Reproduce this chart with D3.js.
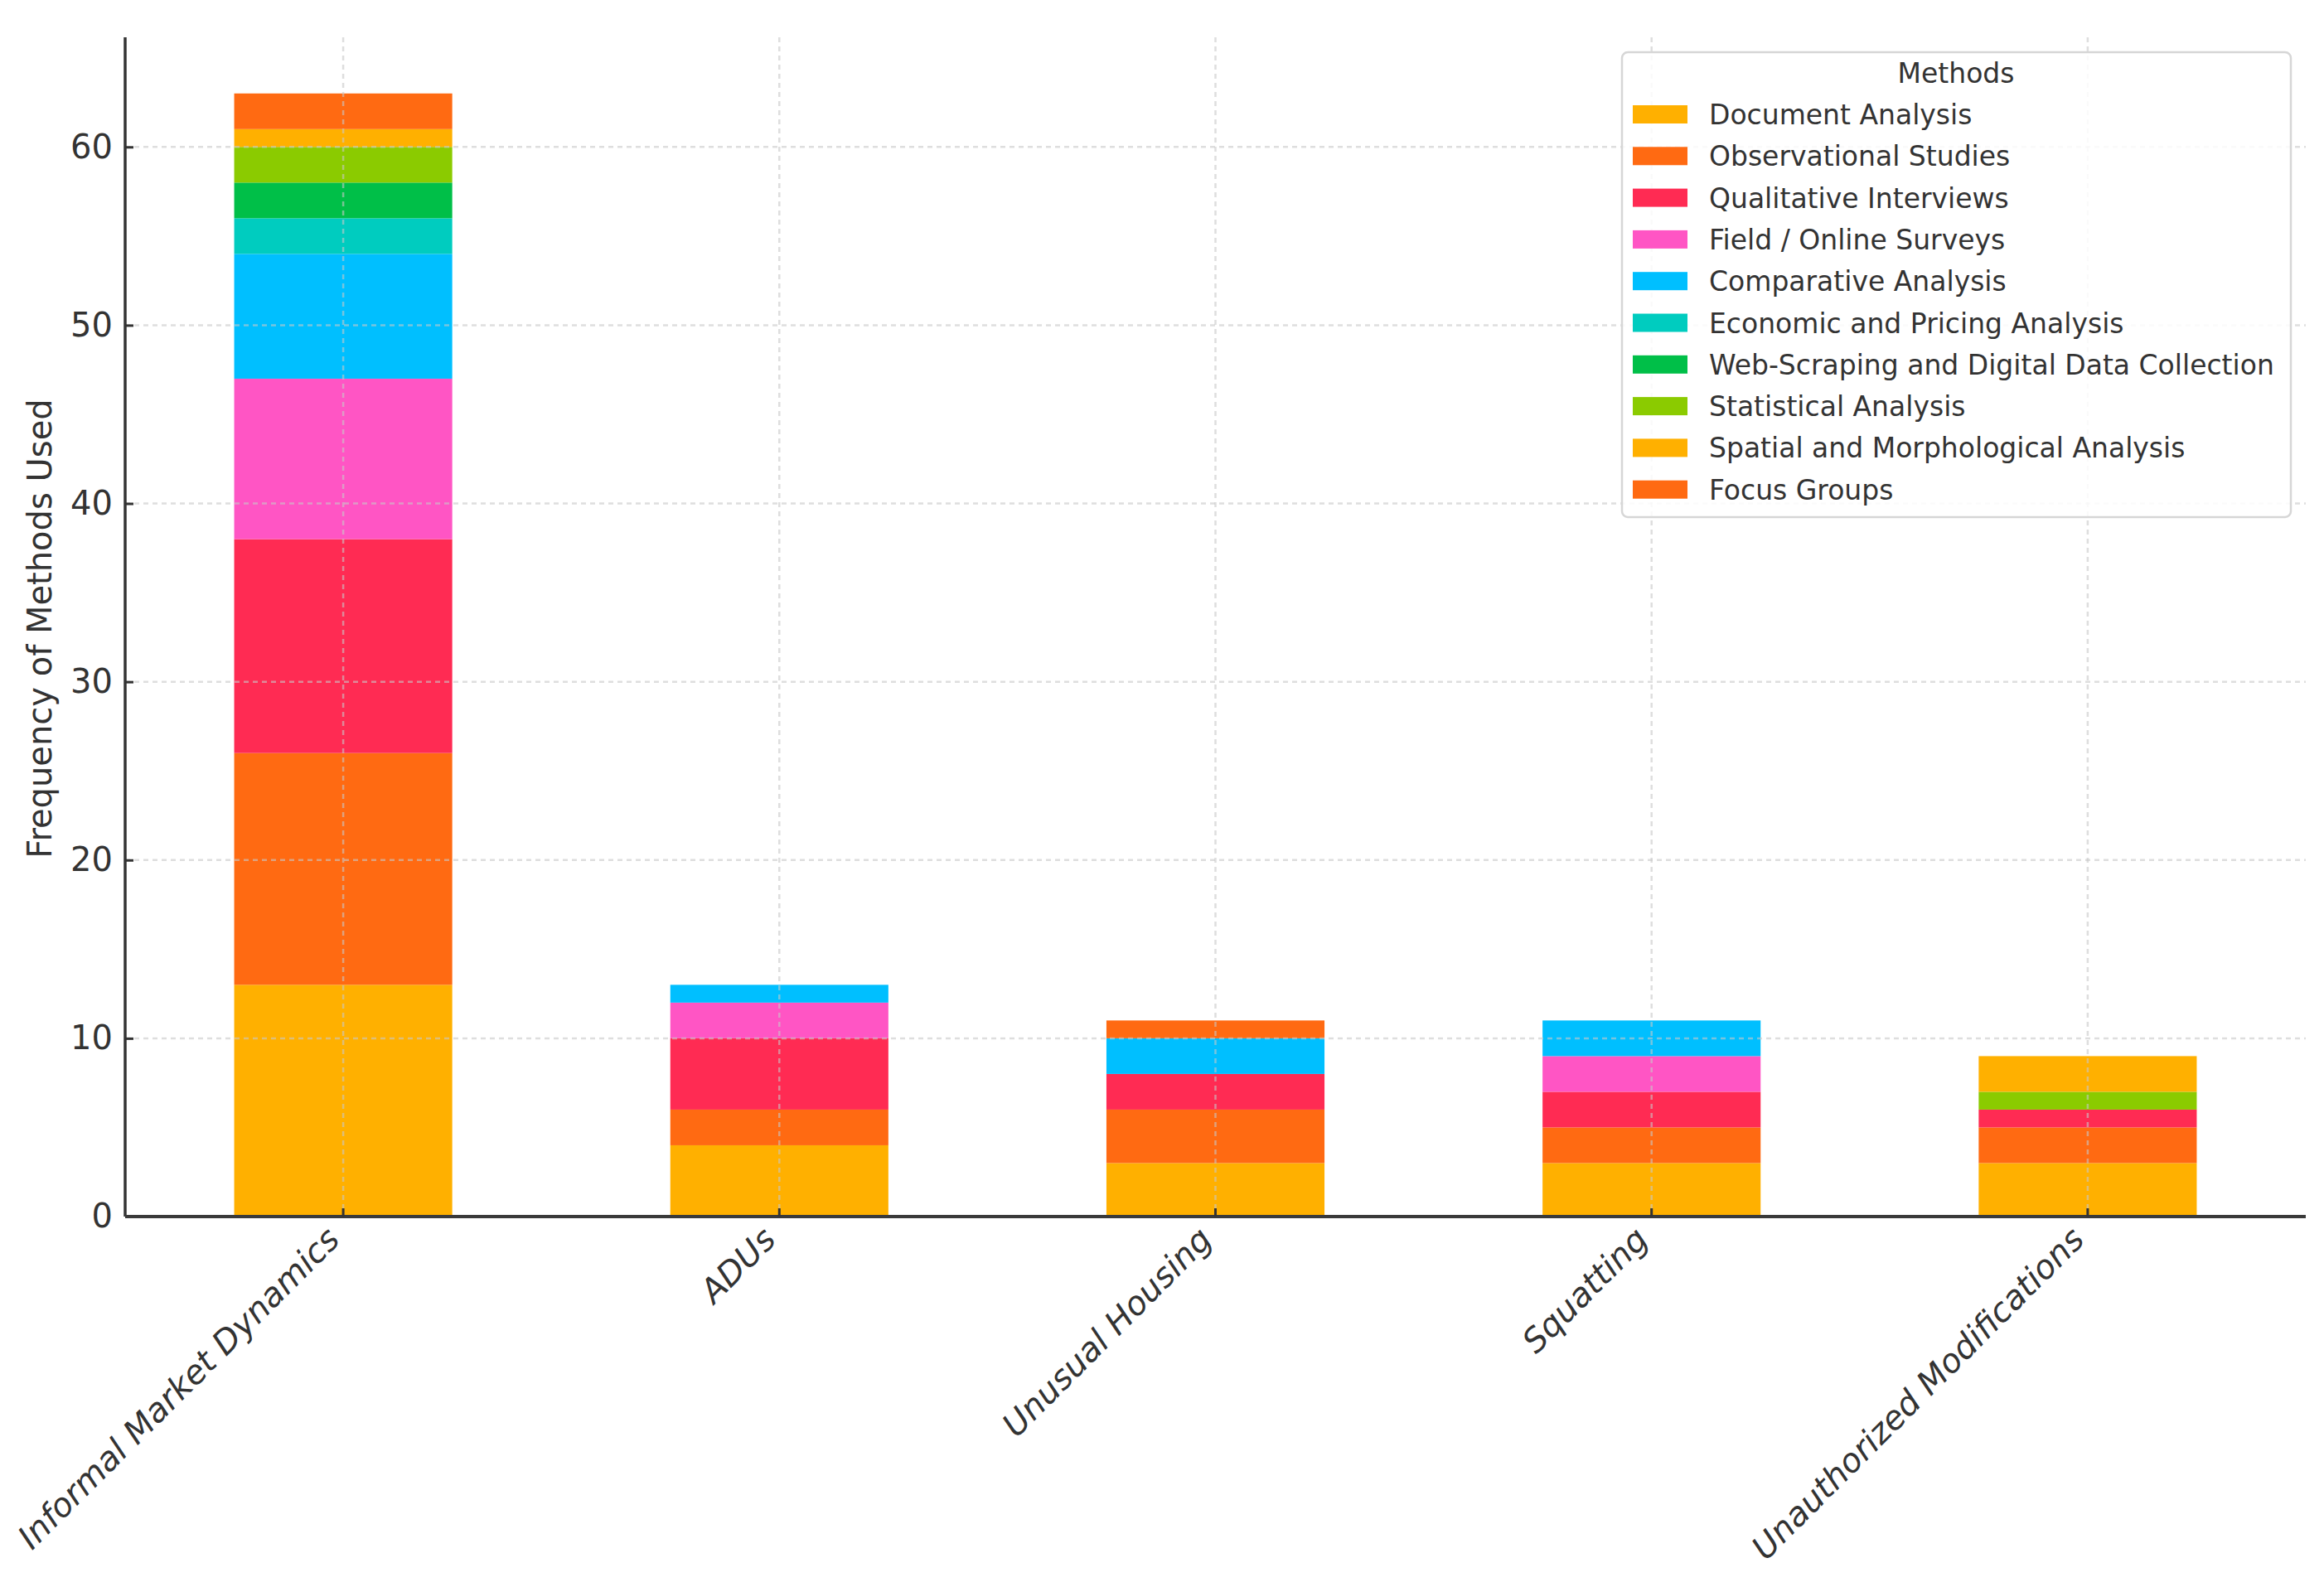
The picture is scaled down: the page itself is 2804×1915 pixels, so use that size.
<!DOCTYPE html>
<html lang="en">
<head>
<meta charset="UTF-8">
<title>Frequency of Methods Used</title>
<script src="https://d3js.org/d3.v7.min.js"></script>
<style>
    body { margin: 0; background: #fff; }
    svg { display: block; font-family: "DejaVu Sans", sans-serif; }
    .tick-label { font-size: 40px; fill: #333; }
    .legend text { font-size: 33px; fill: #333; }
</style>
</head>
<body>
<svg id="chart" width="2804" height="1915"></svg>
<script>
    const categories = ["Informal Market Dynamics", "ADUs", "Unusual Housing", "Squatting", "Unauthorized Modifications"];

    const methods = [
        "Document Analysis", "Observational Studies", "Qualitative Interviews",
        "Field / Online Surveys", "Comparative Analysis", "Economic and Pricing Analysis",
        "Web-Scraping and Digital Data Collection", "Statistical Analysis",
        "Spatial and Morphological Analysis", "Focus Groups"
    ];

    // one array per method, same order as categories
    const documentAnalysis   = [13, 4, 3, 3, 3];
    const observational      = [13, 2, 3, 2, 2];
    const qualitative        = [12, 4, 2, 2, 1];
    const surveys            = [ 9, 2, 0, 2, 0];
    const comparative        = [ 7, 1, 2, 2, 0];
    const economic           = [ 2, 0, 0, 0, 0];
    const webScraping        = [ 2, 0, 0, 0, 0];
    const statistical        = [ 2, 0, 0, 0, 1];
    const spatial            = [ 1, 0, 0, 0, 2];
    const focusGroups        = [ 2, 0, 1, 0, 0];

    const colors = ["#FFB000", "#FF6A12", "#FF2B53", "#FF55C4", "#00BFFF",
                    "#00CCBF", "#00BF48", "#8BCB00", "#FFB000", "#FF6A12"];

    const yTicks = [0, 10, 20, 30, 40, 50, 60];

    const seriesValues = [documentAnalysis, observational, qualitative, surveys, comparative,
                          economic, webScraping, statistical, spatial, focusGroups];

    // table for d3.stack
    const table = categories.map((c, i) => {
        let row = { category: c };
        methods.forEach((m, j) => row[m] = seriesValues[j][i]);
        return row;
    });

    const svg = d3.select("#chart");
    const plotLeft = 151, plotRight = 2782, plotTop = 45, plotBottom = 1468;

    const totals = table.map(r => d3.sum(methods, m => r[m]));
    const x = d3.scaleBand().domain(categories).range([plotLeft, plotRight])
        .paddingInner(0.5).paddingOuter(0.25);
    const y = d3.scaleLinear().domain([0, d3.max(totals) * 1.05]).range([plotBottom, plotTop]);
    const color = d3.scaleOrdinal().domain(methods).range(colors);

    const stacked = d3.stack().keys(methods)(table);

    // bars
    svg.append("g").selectAll("g")
        .data(stacked)
        .enter().append("g")
        .attr("fill", d => color(d.key))
        .selectAll("rect")
        .data(d => d)
        .enter().append("rect")
        .attr("x", d => x(d.data.category))
        .attr("width", x.bandwidth())
        .attr("y", d => y(d[1]))
        .attr("height", d => y(d[0]) - y(d[1]));

    // grid on top of bars
    const grid = svg.append("g")
        .attr("stroke", "#c8c8c8")
        .attr("stroke-opacity", 0.6)
        .attr("stroke-width", 2.5)
        .attr("stroke-dasharray", "6,5");
    grid.selectAll(".hgrid")
        .data(yTicks)
        .enter().append("line")
        .attr("x1", plotLeft).attr("x2", plotRight)
        .attr("y1", d => y(d)).attr("y2", d => y(d));
    grid.selectAll(".vgrid")
        .data(categories)
        .enter().append("line")
        .attr("x1", d => x(d) + x.bandwidth() / 2)
        .attr("x2", d => x(d) + x.bandwidth() / 2)
        .attr("y1", plotTop).attr("y2", plotBottom);

    // y axis
    const yAxis = svg.append("g")
        .attr("transform", `translate(${plotLeft},0)`)
        .call(d3.axisLeft(y).tickValues(yTicks).tickSize(-10).tickPadding(15));
    yAxis.select(".domain").attr("stroke", "#333").attr("stroke-width", 3.5)
        .attr("d", `M0,${plotTop}V${plotBottom}`);
    yAxis.selectAll(".tick line").attr("stroke", "#333").attr("stroke-width", 3);
    yAxis.selectAll(".tick text").attr("class", "tick-label")
        .style("font-family", "DejaVu Sans");

    // x axis
    const xAxis = svg.append("g")
        .attr("transform", `translate(0,${plotBottom})`)
        .call(d3.axisBottom(x).tickSize(-10).tickFormat(""));
    xAxis.select(".domain").attr("stroke", "#3a3a3a").attr("stroke-width", 4)
        .attr("d", `M${plotLeft},0H${plotRight}`);
    xAxis.selectAll(".tick line").attr("stroke", "#333").attr("stroke-width", 3);

    svg.append("g").selectAll("text")
        .data(categories)
        .enter().append("text")
        .attr("class", "tick-label")
        .attr("text-anchor", "end")
        .attr("font-style", "oblique")
        .attr("transform", d => `translate(${x(d) + x.bandwidth() / 2 - 2},${plotBottom + 30}) rotate(-45)`)
        .text(d => d);

    // y label
    svg.append("text")
        .attr("transform", `translate(62,${(plotTop + plotBottom) / 2 + 2}) rotate(-90)`)
        .attr("text-anchor", "middle")
        .attr("font-size", 40)
        .attr("fill", "#333")
        .text("Frequency of Methods Used");

    // legend
    const legend = svg.append("g").attr("class", "legend");
    legend.append("rect")
        .attr("x", 1957).attr("y", 63)
        .attr("width", 807).attr("height", 561)
        .attr("rx", 7)
        .attr("fill", "#fff").attr("fill-opacity", 0.85)
        .attr("stroke", "#d6d6d6").attr("stroke-width", 2.5);
    legend.append("text")
        .attr("x", 2360).attr("y", 100)
        .attr("text-anchor", "middle")
        .text("Methods");
    const items = legend.selectAll(".item")
        .data(methods)
        .enter().append("g")
        .attr("transform", (d, i) => `translate(1970,${138 + i * 50.3})`);
    items.append("rect")
        .attr("x", 0).attr("y", -11)
        .attr("width", 66).attr("height", 22)
        .attr("fill", d => color(d));
    items.append("text")
        .attr("x", 92).attr("y", 12)
        .text(d => d);
</script>
</body>
</html>
